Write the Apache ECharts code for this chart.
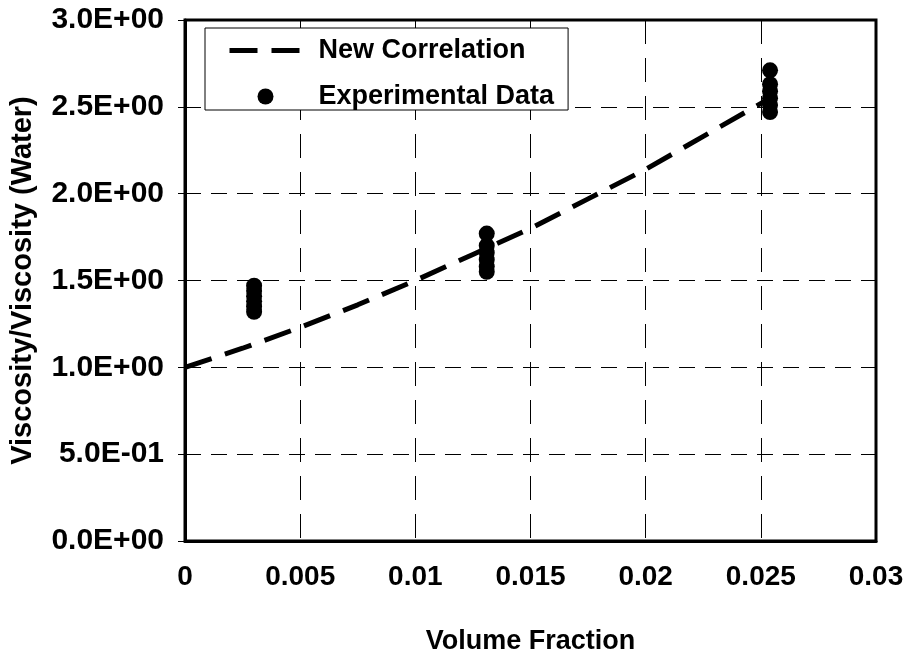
<!DOCTYPE html>
<html>
<head>
<meta charset="utf-8">
<script src="https://cdn.jsdelivr.net/npm/echarts@6/dist/echarts.min.js"></script>
<style>html,body{margin:0;padding:0;background:#fff;}#c{width:908px;height:655px;}</style>
</head>
<body>
<div id="c"></div>
<script>
var xTickLabels = ['0', '0.005', '0.01', '0.015', '0.02', '0.025', '0.03'];
var yTickLabels = ['0.0E+00', '5.0E-01', '1.0E+00', '1.5E+00', '2.0E+00', '2.5E+00', '3.0E+00'];
var correlationX = [0, 0.0025, 0.005, 0.0075, 0.01, 0.0125, 0.015, 0.0175, 0.02, 0.0225, 0.0254];
var correlationY = [1.0, 1.11, 1.23, 1.36, 1.5, 1.65, 1.80, 1.97, 2.14, 2.33, 2.55];
var expX = [0.003, 0.003, 0.003, 0.003, 0.003, 0.003,
            0.0131, 0.0131, 0.0131, 0.0131, 0.0131, 0.0131,
            0.0254, 0.0254, 0.0254, 0.0254, 0.0254, 0.0254];
var expY = [1.47, 1.44, 1.41, 1.38, 1.35, 1.32,
            1.77, 1.70, 1.66, 1.62, 1.58, 1.55,
            2.71, 2.63, 2.59, 2.55, 2.51, 2.47];

var FONT = '"Liberation Sans", Arial, sans-serif';
var chart = echarts.init(document.getElementById('c'), null, {renderer: 'canvas'});
chart.setOption({
  animation: false,
  backgroundColor: '#fff',
  textStyle: {fontFamily: FONT, fontWeight: 'bold', color: '#000'},
  grid: {left: 185, right: 32, top: 20, bottom: 114, containLabel: false, outerBoundsMode: 'none',
         show: true, borderColor: '#000', borderWidth: 3, backgroundColor: 'transparent'},
  legend: {
    orient: 'vertical', left: 205, top: 28,
    padding: [9, 14, 0, 22],
    backgroundColor: '#fff', borderColor: '#000', borderWidth: 1,
    itemWidth: 72, itemHeight: 16, itemGap: 19,
    textStyle: {fontFamily: FONT, fontWeight: 'bold', fontSize: 27, color: '#000', padding: [0, 0, 0, 12]},
    data: [
      {name: 'New Correlation', itemStyle: {opacity: 0, color: 'rgba(0,0,0,0)', borderWidth: 0},
       lineStyle: {color: '#000', width: 5, type: [28, 14], opacity: 1}},
      {name: 'Experimental Data'}
    ]
  },
  xAxis: {
    type: 'value', min: 0, max: 0.03, interval: 0.005,
    axisLine: {show: true, onZero: false, lineStyle: {color: '#000', width: 3}},
    axisTick: {show: false},
    axisLabel: {
      margin: 22, color: '#000', fontFamily: FONT, fontWeight: 'bold', fontSize: 28,
      formatter: function (v) { return xTickLabels[Math.round(v / 0.005)]; }
    },
    splitLine: {show: true, lineStyle: {color: '#000', width: 1, type: [24, 14]}},
    name: 'Volume Fraction', nameLocation: 'middle', nameGap: 87,
    nameTextStyle: {color: '#000', fontFamily: FONT, fontWeight: 'bold', fontSize: 27}
  },
  yAxis: {
    type: 'value', min: 0, max: 3, interval: 0.5,
    axisLine: {show: true, lineStyle: {color: '#000', width: 3}},
    axisTick: {show: true, inside: false, length: 7, lineStyle: {color: '#000', width: 1}},
    axisLabel: {
      margin: 21, color: '#000', fontFamily: FONT, fontWeight: 'bold', fontSize: 30,
      formatter: function (v) { return yTickLabels[Math.round(v / 0.5)]; }
    },
    splitLine: {show: true, lineStyle: {color: '#000', width: 1, type: [16, 10]}},
    name: 'Viscosity/Viscosity (Water)', nameLocation: 'middle', nameGap: 148,
    nameTextStyle: {color: '#000', fontFamily: FONT, fontWeight: 'bold', fontSize: 29}
  },
  series: [
    {
      name: 'New Correlation', type: 'line', showSymbol: false, symbol: 'none',
      data: correlationX.map(function (x, i) { return [x, correlationY[i]]; }),
      lineStyle: {color: '#000', width: 5, type: [28, 14]},
      itemStyle: {color: '#000'}, z: 3
    },
    {
      name: 'Experimental Data', type: 'scatter', symbol: 'circle', symbolSize: 16,
      data: expX.map(function (x, i) { return [x, expY[i]]; }),
      itemStyle: {color: '#000', opacity: 1}, z: 4
    }
  ]
});
</script>
</body>
</html>
